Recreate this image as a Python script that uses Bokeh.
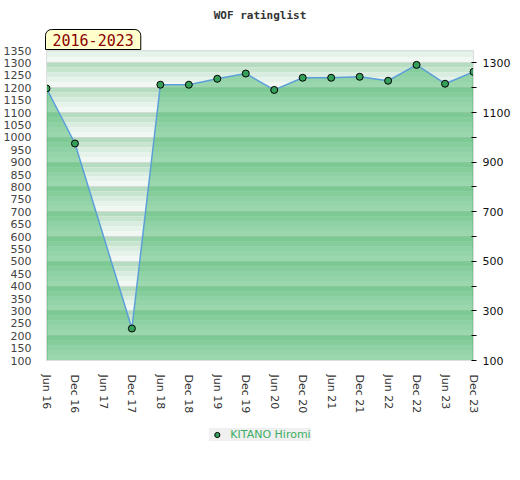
import numpy as np
from bokeh.plotting import figure
from bokeh.layouts import column
from bokeh.models import (ColumnDataSource, LinearAxis, FixedTicker, Title,
                          Legend, LegendItem, Range1d)
from bokeh.embed import file_html
from bokeh.resources import INLINE

# ---- data ----
periods = ["Jun 16", "Dec 16", "Jun 17", "Dec 17", "Jun 18", "Dec 18",
           "Jun 19", "Dec 19", "Jun 20", "Dec 20", "Jun 21", "Dec 21",
           "Jun 22", "Dec 22", "Jun 23", "Dec 23"]
ratings = [1197, 975, None, 229, 1212, 1212, 1236, 1257, 1191, 1240,
           1240, 1244, 1228, 1292, 1216, 1264]
player = "KITANO Hiromi"
title_text = "WOF ratinglist"
span_text = "2016-2023"
left_ticks = list(range(100, 1351, 50))
right_ticks = list(range(100, 1301, 100))
right_labels = {v: (str(v) if v % 200 == 100 else "") for v in right_ticks}

y_min, y_max = 100, 1350

xs = [i for i, v in enumerate(ratings) if v is not None]
ys = [v for v in ratings if v is not None]
src = ColumnDataSource(dict(x=xs, y=ys, base=[y_min] * len(xs)))

p = figure(frame_width=427, frame_height=310, output_backend="svg", toolbar_location=None,
           title=None,
           x_range=Range1d(0, len(periods) - 1), y_range=Range1d(y_min, y_max),
           min_border_left=46, min_border_right=47, min_border_top=50,
           min_border_bottom=60)
p.background_fill_color = "white"
p.border_fill_color = "white"
p.outline_line_color = "#dddddd"
p.xgrid.visible = False
p.ygrid.visible = False

# ---- background stripes (decoration) ----
stripe_colors = ["#b5dcc0", "#c6e4ce", "#d8ece0", "#e6f3ea", "#f1f8f3"]
tops = np.arange(1400, y_min, -20)
bots = tops - 20
keep = bots < y_max
tops_c = np.minimum(tops[keep], y_max)
bots_c = bots[keep]
cols = [stripe_colors[(int(1400 - t) // 20) % 5] for t in tops[keep]]
p.hstrip(y0=bots_c, y1=tops_c, fill_color=cols, line_color=None)
p.hspan(y=list(range(200, 1301, 100)), line_color="#d3dbd5", line_width=1)

# ---- area, line, markers ----
p.varea(x="x", y1="base", y2="y", source=src, fill_color="#43b668", fill_alpha=0.5)
p.segment(x0=[xs[0], xs[-1]], y0=[y_min, y_min], x1=[xs[0], xs[-1]], y1=[ys[0], ys[-1]],
          line_color="#3aa55e", line_width=1.5)
p.line("x", "y", source=src, line_color="#5b9fd9", line_width=1.5)
r = p.scatter("x", "y", source=src, size=7, fill_color="#35a05a",
              line_color="black", line_width=1)

# ---- axes ----
ya = p.yaxis[0]
ya.ticker = FixedTicker(ticks=left_ticks)
ya.major_tick_line_color = None
ya.minor_tick_line_color = None
ya.axis_line_color = "#dddddd"
ya.major_label_text_font = "DejaVu Sans"
ya.major_label_text_font_size = "11px"
ya.major_label_text_color = "#444444"
ya.major_label_standoff = 9

xa = p.xaxis[0]
xa.ticker = FixedTicker(ticks=list(range(len(periods))))
xa.major_label_overrides = {i: lbl for i, lbl in enumerate(periods)}
xa.major_label_orientation = "vertical"
xa.major_tick_line_color = None
xa.minor_tick_line_color = None
xa.axis_line_color = "#dddddd"
xa.major_label_text_font = "DejaVu Sans"
xa.major_label_text_font_size = "11px"
xa.major_label_text_color = "#333333"
xa.major_label_standoff = 8

ra = LinearAxis(ticker=FixedTicker(ticks=right_ticks), major_label_overrides=right_labels)
ra.major_tick_in = 2
ra.major_tick_out = 3
ra.major_tick_line_color = "black"
ra.minor_tick_line_color = None
ra.axis_line_color = "#dddddd"
ra.major_label_text_font = "DejaVu Sans"
ra.major_label_text_font_size = "11px"
ra.major_label_text_color = "#111111"
ra.major_label_standoff = 6
p.add_layout(ra, "right")

# ---- badge (nearest the frame) and title ----
badge = Title(text=span_text, align="left", vertical_align="middle", offset=-1,
              standoff=0, text_font="DejaVu Sans Mono", text_font_size="15px",
              text_font_style="normal", text_color="#8b0000",
              background_fill_color="#ffffcc", border_line_color="black",
              border_line_width=1, padding=(7, 4), border_radius=(6, 6, 0, 0))
p.add_layout(badge, "above")
main_title = Title(text=title_text, align="center", vertical_align="middle",
                   standoff=12, text_font="DejaVu Sans Mono", text_font_style="bold",
                   text_font_size="11px", text_color="#333333")
p.add_layout(main_title, "above")

# ---- legend (in its own strip below the chart) ----
# same data source, but the strip's ranges keep the points out of view;
# only the legend glyph is drawn
p2 = figure(width=520, height=60, output_backend="svg", toolbar_location=None,
            title=None, x_axis_type=None, y_axis_type=None,
            x_range=Range1d(-100, -99), y_range=Range1d(-100, -99), min_border=0)
p2.outline_line_color = None
p2.background_fill_color = "white"
p2.border_fill_color = "white"
r2 = p2.scatter("x", "y", source=src, size=7, fill_color="#35a05a",
                line_color="black", line_width=1)
legend = Legend(items=[LegendItem(label=player, renderers=[r2])], location="top_center",
                orientation="horizontal", background_fill_color="#f0f0f0",
                background_fill_alpha=1, border_line_color=None, padding=6, margin=8,
                glyph_width=16, glyph_height=13, label_height=13, label_standoff=6,
                label_text_font="DejaVu Sans", label_text_font_size="11px",
                label_text_color="#3cae62")
p2.add_layout(legend)

layout = column(p, p2, spacing=0)
open("out.html", "w").write(file_html(layout, INLINE))
